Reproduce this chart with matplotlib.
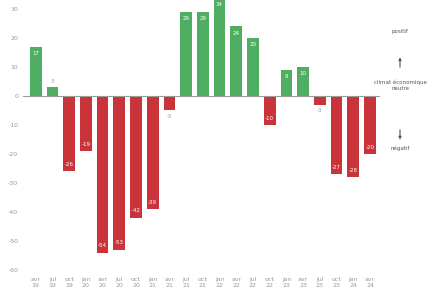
import matplotlib.pyplot as plt

# quarters avr 2019 .. avr 2024
mois = ["avr", "jul", "oct", "jan"] * 5 + ["avr"]
annees = ["19", "19", "19", "20", "20", "20", "20", "21", "21", "21", "21",
          "22", "22", "22", "22", "23", "23", "23", "23", "24", "24"]
valeurs = [17, 3, -26, -19, -54, -53, -42, -39, -5, 29, 29, 34, 24, 20,
           -10, 9, 10, -3, -27, -28, -20]
yticks = [-60, -50, -40, -30, -20, -10, 0, 10, 20, 30]

vert = "#4fae62"
rouge = "#c9343a"
gris = "#9a9a9a"

fig = plt.figure(figsize=(4.45, 2.95), dpi=100)
ax = fig.add_axes([0.052, 0.075, 0.802, 0.925])

x = list(range(len(valeurs)))
couleurs = [vert if v >= 0 else rouge for v in valeurs]
ax.bar(x, valeurs, width=0.7, color=couleurs, zorder=2)
ax.axhline(0, color="#9a9a9a", lw=0.8, zorder=3)

for i, v in enumerate(valeurs):
    if abs(v) <= 5:
        off = 1.2 if v >= 0 else -1.2
        ax.text(i, v + off, str(v), ha="center", va="bottom" if v >= 0 else "top",
                fontsize=4, color=gris)
    else:
        off = -1.5 if v >= 0 else 1.5
        ax.text(i, v + off, str(v), ha="center", va="top" if v >= 0 else "bottom",
                fontsize=4, color="white")

ax.set_xlim(-0.75, len(valeurs) - 0.4)
ax.set_ylim(-61, 33.1)
ax.set_yticks(yticks)
ax.set_yticklabels([str(t) for t in yticks])
ax.set_xticks(x)
ax.set_xticklabels([m + "\n" + a for m, a in zip(mois, annees)])
ax.tick_params(axis="both", length=0, labelsize=4.5, colors=gris)
ax.tick_params(axis="x", pad=3)
for s in ax.spines.values():
    s.set_visible(False)

# legend on the right
xr = 400 / 445
fig.text(xr, 1 - 32 / 295, "positif", ha="center", va="center", fontsize=4, color="#555555")
fig.text(xr, 1 - 85 / 295, "climat économique\nneutre", ha="center", va="center",
         fontsize=4, color="#555555", linespacing=1.3)
fig.text(xr, 1 - 148 / 295, "négatif", ha="center", va="center", fontsize=4, color="#555555")
fig.add_artist(plt.annotate("", xy=(xr, 1 - 55 / 295), xytext=(xr, 1 - 70 / 295),
                            xycoords="figure fraction",
                            arrowprops=dict(arrowstyle="-|>", color="#555555", lw=0.5,
                                            mutation_scale=4)))
fig.add_artist(plt.annotate("", xy=(xr, 1 - 142 / 295), xytext=(xr, 1 - 127 / 295),
                            xycoords="figure fraction",
                            arrowprops=dict(arrowstyle="-|>", color="#555555", lw=0.5,
                                            mutation_scale=4)))

fig.savefig("out.png", dpi=100)
